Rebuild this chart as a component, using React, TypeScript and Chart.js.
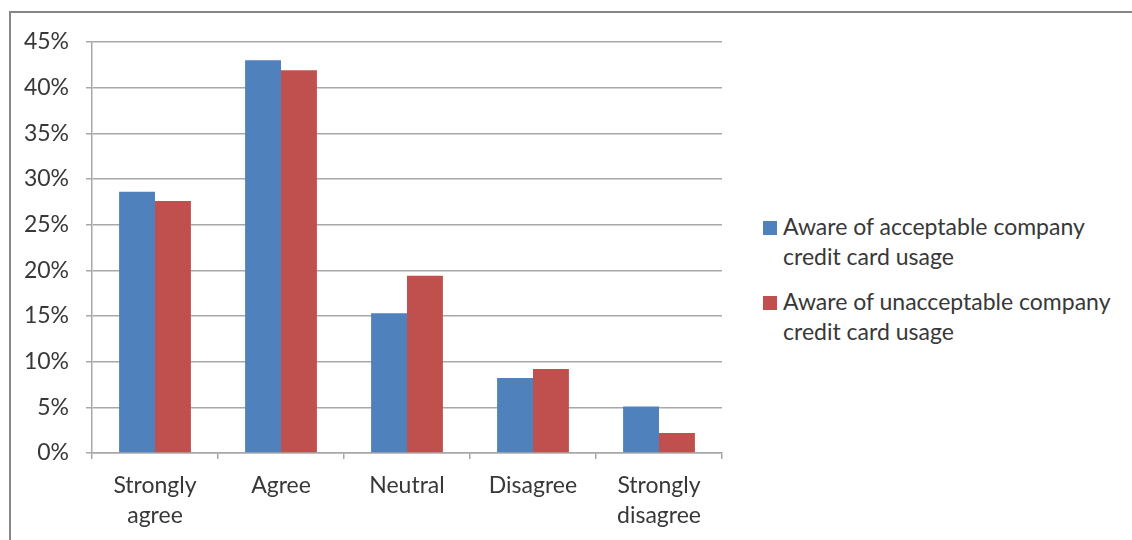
import React, { useEffect, useRef } from "react";
import { Chart, registerables } from "chart.js";

Chart.register(...registerables);

const categories: (string | string[])[] = [
  ["Strongly", "agree"],
  "Agree",
  "Neutral",
  "Disagree",
  ["Strongly", "disagree"],
];
const acceptableValues = [28.6, 43.0, 15.3, 8.2, 5.1];
const unacceptableValues = [27.6, 41.9, 19.4, 9.2, 2.2];
const seriesNames = [
  ["Aware of acceptable company", "credit card usage"],
  ["Aware of unacceptable company", "credit card usage"],
];
const seriesColors = ["#4F81BD", "#C0504D"];

const FONT = "Lato, 'Open Sans', sans-serif";
const TEXT = "#383838";
const GRID = "#a8a8a8";

export default function App() {
  const ref = useRef<HTMLCanvasElement | null>(null);

  useEffect(() => {
    if (!ref.current) return;
    const chart = new Chart(ref.current, {
      type: "bar",
      data: {
        labels: categories,
        datasets: [
          {
            label: seriesNames[0].join(" "),
            data: acceptableValues,
            backgroundColor: seriesColors[0],
            barPercentage: 1,
            categoryPercentage: 0.57,
          },
          {
            label: seriesNames[1].join(" "),
            data: unacceptableValues,
            backgroundColor: seriesColors[1],
            barPercentage: 1,
            categoryPercentage: 0.57,
          },
        ],
      },
      options: {
        responsive: false,
        animation: false,
        layout: { padding: { left: 0, top: 42, right: 18, bottom: 0 } },
        plugins: { legend: { display: false }, tooltip: { enabled: false } },
        scales: {
          x: {
            grid: {
              display: true,
              drawOnChartArea: false,
              drawTicks: true,
              tickLength: 6,
              color: GRID,
              lineWidth: 1.5,
            },
            border: { color: GRID, width: 1.5 },
            ticks: {
              color: TEXT,
              font: { family: FONT, size: 23, lineHeight: 1.3 },
              padding: 12,
              maxRotation: 0,
            },
            afterFit: (s: any) => {
              s.height = 540 - 453;
            },
          },
          y: {
            min: 0,
            max: 45,
            grid: {
              color: GRID,
              lineWidth: 1.5,
              drawTicks: true,
              tickLength: 6,
            },
            border: { color: GRID, width: 1.5 },
            ticks: {
              stepSize: 5,
              color: TEXT,
              font: { family: FONT, size: 23 },
              padding: 17,
              callback: (v: any) => `${v}%`,
            },
            afterFit: (s: any) => {
              s.width = 92;
            },
          },
        },
      },
    });
    return () => chart.destroy();
  }, []);

  const legendTop = [211, 286];
  return (
    <div
      style={{
        position: "fixed",
        left: 0,
        top: 0,
        width: 1132,
        height: 540,
        background: "#fff",
        overflow: "hidden",
      }}
    >
      <div
        style={{
          position: "absolute",
          left: 9,
          top: 11,
          width: 1200,
          height: 600,
          border: "2px solid #868686",
        }}
      />
      <canvas
        ref={ref}
        width={740}
        height={540}
        style={{ position: "absolute", left: 0, top: 0 }}
      />
      {seriesNames.map((lines, i) => (
        <div
          key={i}
          style={{
            position: "absolute",
            left: 763,
            top: legendTop[i],
            fontFamily: FONT,
            fontSize: 23,
            lineHeight: "30px",
            color: TEXT,
            whiteSpace: "nowrap",
          }}
        >
          <span
            style={{
              position: "absolute",
              left: 0,
              top: 10,
              width: 14,
              height: 14,
              background: seriesColors[i],
            }}
          />
          <div style={{ marginLeft: 20 }}>
            {lines.map((l, j) => (
              <div key={j}>{l}</div>
            ))}
          </div>
        </div>
      ))}
    </div>
  );
}
